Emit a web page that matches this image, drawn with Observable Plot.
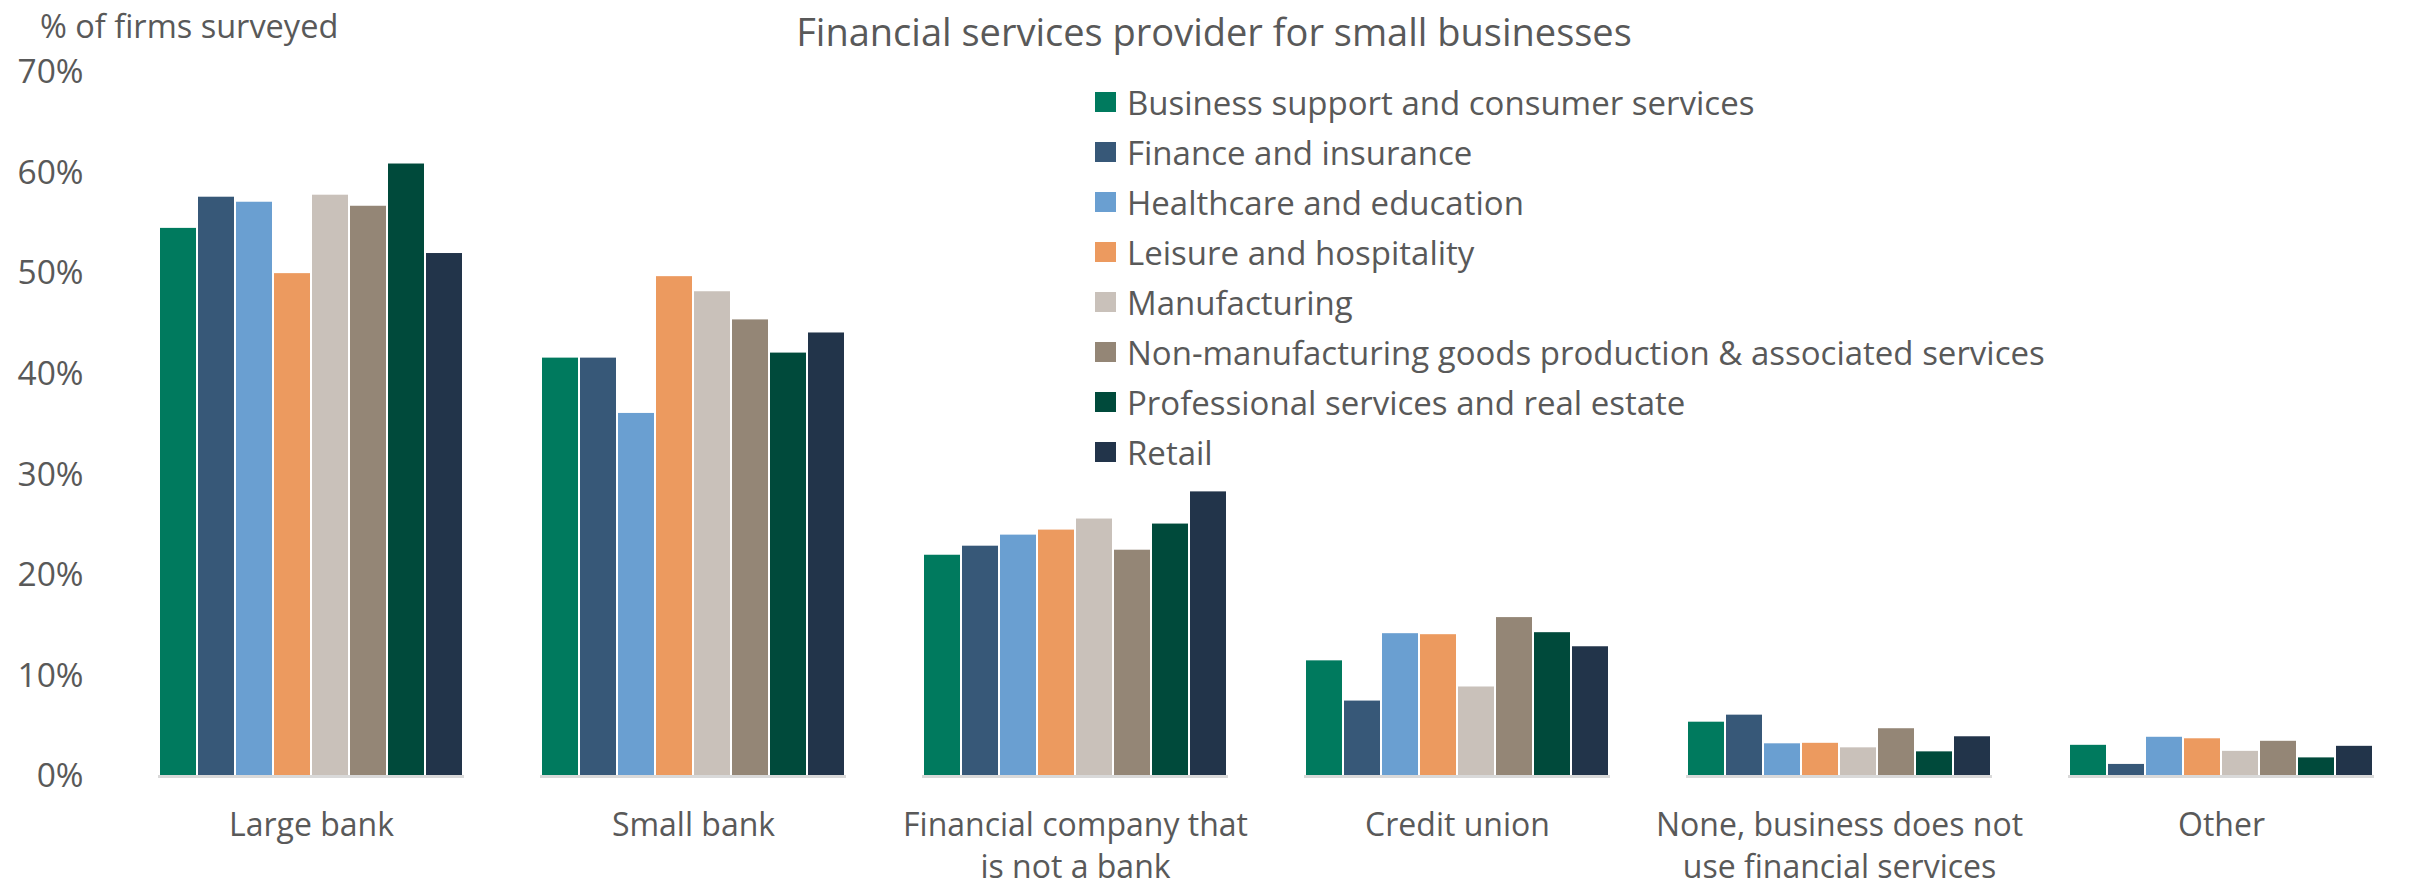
<!DOCTYPE html>
<html>
<head>
<meta charset="utf-8">
<script src="https://cdn.jsdelivr.net/npm/d3@7"></script>
<script src="https://cdn.jsdelivr.net/npm/@observablehq/plot@0.6"></script>
<style>
  html, body { margin: 0; padding: 0; background: #fff; }
  body { width: 2428px; height: 890px; overflow: hidden; font-family: "Open Sans", sans-serif; color: #595959; }
  #wrap { position: relative; width: 2428px; height: 890px; }
  #title { position: absolute; left: 0; width: 2428px; top: 6px; text-align: center; font-size: 38px; line-height: 50px; }
  #ylabel { position: absolute; left: 40px; top: 2px; font-size: 32.5px; line-height: 48px; }
  #legend { position: absolute; left: 1095px; top: 77px; }
  .row { display: flex; align-items: center; height: 50px; font-size: 33px; white-space: nowrap; }
  .sw { width: 21px; height: 20px; margin-right: 11px; flex: none; }
  #chart { position: absolute; left: 0; top: 0; }
</style>
</head>
<body>
<div id="wrap">
  <div id="chart"></div>
  <div id="title"></div>
  <div id="ylabel"></div>
  <div id="legend"></div>
</div>
<script>
const titleText = "Financial services provider for small businesses";
const yLabelText = "% of firms surveyed";

const categories = [
  "Large bank",
  "Small bank",
  "Financial company that is not a bank",
  "Credit union",
  "None, business does not use financial services",
  "Other"
];
const categoryLabels = [
  "Large bank",
  "Small bank",
  "Financial company that\nis not a bank",
  "Credit union",
  "None, business does not\nuse financial services",
  "Other"
];

const series = [
  "Business support and consumer services",
  "Finance and insurance",
  "Healthcare and education",
  "Leisure and hospitality",
  "Manufacturing",
  "Non-manufacturing goods production & associated services",
  "Professional services and real estate",
  "Retail"
];
const seriesColors = ["#007a5e", "#375878", "#6a9fd1", "#ec9a5f", "#c9c1ba", "#948676", "#004a3b", "#22344a"];

// values in % for each category (Large bank, Small bank, Financial co., Credit union, None, Other)
const businessSupport   = [54.5, 41.6, 22.0, 11.5, 5.4, 3.1];
const financeInsurance  = [57.6, 41.6, 22.9, 7.5, 6.1, 1.2];
const healthEducation   = [57.1, 36.1, 24.0, 14.2, 3.25, 3.9];
const leisureHosp       = [50.0, 49.7, 24.5, 14.1, 3.3, 3.75];
const manufacturing     = [57.8, 48.2, 25.6, 8.9, 2.85, 2.5];
const nonManufacturing  = [56.7, 45.4, 22.5, 15.8, 4.75, 3.5];
const professional      = [60.9, 42.1, 25.1, 14.3, 2.45, 1.85];
const retail            = [52.0, 44.1, 28.3, 12.9, 3.95, 3.0];

const yTicks = [0, 10, 20, 30, 40, 50, 60, 70];

const seriesValues = [businessSupport, financeInsurance, healthEducation, leisureHosp, manufacturing, nonManufacturing, professional, retail];
const table = [];
series.forEach((s, si) => {
  categories.forEach((c, ci) => {
    table.push({category: c, series: s, value: seriesValues[si][ci]});
  });
});

const labelOf = new Map(categories.map((c, i) => [c, categoryLabels[i]]));

let baseline;
try {
  baseline = Plot.ruleY([0], {stroke: "#d9d9d9", strokeWidth: 3, facet: "super"});
} catch (e) {
  baseline = Plot.ruleY([0], {stroke: "#d9d9d9", strokeWidth: 3});
}

const chart = Plot.plot({
  width: 2428,
  height: 890,
  marginLeft: 117,
  marginRight: 14,
  marginTop: 72,
  marginBottom: 114,
  style: {fontFamily: "'Open Sans', sans-serif", color: "#595959", background: "transparent"},
  fx: {domain: categories, paddingInner: 0.2, paddingOuter: 0.1, label: null, axis: null},
  x: {domain: series, padding: 0, axis: null},
  y: {domain: [0, 70], axis: null},
  color: {domain: series, range: seriesColors},
  marks: [
    Plot.barY(table, {fx: "category", x: "series", y: "value", fill: "series", insetLeft: 1, insetRight: 1}),
    baseline,
    Plot.axisY({ticks: yTicks, tickFormat: d => d + "%", tickSize: 0, tickPadding: 75, fontSize: 33.5, label: null}),
    Plot.axisFx({anchor: "bottom", tickSize: 0, tickPadding: 29, fontSize: 32, lineHeight: 1.33, label: null, tickFormat: c => labelOf.get(c)})
  ]
});
document.getElementById("chart").appendChild(chart);

document.getElementById("title").textContent = titleText;
document.getElementById("ylabel").textContent = yLabelText;
const legend = document.getElementById("legend");
series.forEach((s, i) => {
  const row = document.createElement("div");
  row.className = "row";
  const sw = document.createElement("div");
  sw.className = "sw";
  sw.style.background = seriesColors[i];
  const tx = document.createElement("span");
  tx.textContent = s;
  row.appendChild(sw);
  row.appendChild(tx);
  legend.appendChild(row);
});
</script>
</body>
</html>
